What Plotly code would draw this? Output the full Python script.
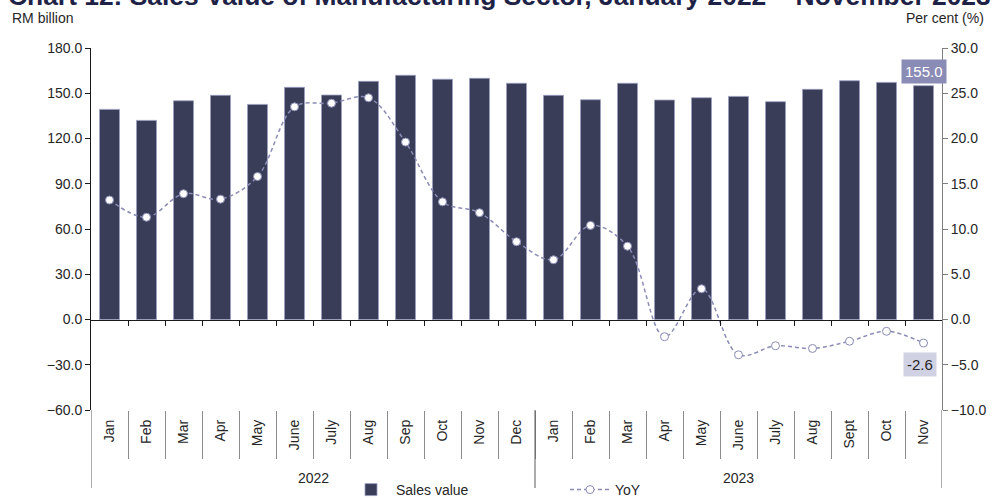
import plotly.graph_objects as go

years = ["2022"] * 12 + ["2023"] * 11
months = ["Jan", "Feb", "Mar", "Apr", "May", "June", "July", "Aug", "Sep", "Oct", "Nov", "Dec",
          "Jan", "Feb", "Mar", "Apr", "May", "June", "July", "Aug", "Sept", "Oct", "Nov"]
sales_value = [139.3, 132.0, 145.0, 148.6, 142.6, 153.9, 148.8, 157.9, 161.9, 159.3, 159.9, 156.6,
               148.6, 145.7, 156.6, 145.5, 147.0, 147.9, 144.4, 152.6, 158.3, 157.2, 155.0]
yoy = [13.2, 11.3, 13.9, 13.3, 15.8, 23.5, 23.9, 24.5, 19.6, 13.0, 11.8, 8.6,
       6.6, 10.4, 8.1, -1.9, 3.4, -3.9, -2.9, -3.2, -2.4, -1.3, -2.6]

FONT = "Arial, Liberation Sans, sans-serif"
TXT = "#262626"
BAR = "#3a3d58"
LAV = "#8a8cb5"

n = len(months)
idx = list(range(n))

W, H = 992, 500
# plot area in window pixels: x 91..942, y 48..410
SX0, SX1, SY0, SY1 = 91, 942, 48, 410
L, R, T, B = SX0, W - SX1, SY0, H - SY1
PW, PH = SX1 - SX0, SY1 - SY0


def py(sy):
    """paper-y of a window y pixel"""
    return (SY1 - sy) / PH


def px(sx):
    """paper-x of a window x pixel"""
    return (sx - SX0) / PW


fig = go.Figure()
fig.add_trace(go.Bar(
    x=idx, y=sales_value, name="Sales value",
    marker=dict(color=BAR, line=dict(color="#9c9ec0", width=0.8)),
    yaxis="y", xaxis="x",
))
fig.add_trace(go.Scatter(
    x=idx, y=yoy, name="YoY", mode="lines+markers",
    line=dict(color=LAV, width=1.5, dash="4px,3px", shape="spline", smoothing=1.0),
    marker=dict(symbol="circle", size=8, color="white", line=dict(color=LAV, width=1)),
    yaxis="y2", xaxis="x",
))
# helper traces to host the zero-line axis and the month separators
fig.add_trace(go.Scatter(x=idx, y=[None] * n, xaxis="x2", yaxis="y",
                         showlegend=False, hoverinfo="skip"))
fig.add_trace(go.Scatter(x=idx, y=[None] * n, xaxis="x3", yaxis="y",
                         showlegend=False, hoverinfo="skip"))

fig.update_layout(
    width=W, height=H,
    margin=dict(l=L, r=R, t=T, b=B, autoexpand=False),
    plot_bgcolor="white", paper_bgcolor="white",
    font=dict(family=FONT, size=14, color=TXT),
    bargap=0.46,
    showlegend=True,
    legend=dict(orientation="h", x=px(346), xanchor="left", y=py(474), yanchor="top",
                font=dict(size=14, color=TXT), entrywidth=164, itemwidth=40,
                bgcolor="rgba(0,0,0,0)"),
    xaxis=dict(
        range=[-0.5, n - 0.5], tickmode="array", tickvals=idx, ticktext=months,
        tickangle=-90, ticks="", ticklabelstandoff=6, showline=False, showgrid=False,
        zeroline=False, automargin=False, tickfont=dict(size=14, color=TXT),
    ),
    xaxis2=dict(
        overlaying="x", anchor="free", position=0.25, side="bottom",
        range=[-0.5, n - 0.5], showline=True, linecolor="#1a1a1a", linewidth=1,
        ticks="outside", ticklen=5, tickcolor="#1a1a1a",
        tickvals=[i + 0.5 for i in range(n - 1)], showticklabels=False, showgrid=False,
        zeroline=False, automargin=False,
    ),
    xaxis3=dict(
        overlaying="x", anchor="y", side="bottom",
        range=[-0.5, n - 0.5], showline=False,
        ticks="outside", ticklen=48, tickcolor="#8c8c8c", tickwidth=1,
        tickvals=[i + 0.5 for i in range(n - 1)], showticklabels=False, showgrid=False,
        zeroline=False, automargin=False,
    ),
    yaxis=dict(
        range=[-60, 180], dtick=30, tick0=0, tickformat=".1f",
        showline=True, linecolor="#1a1a1a", linewidth=1, ticks="outside", ticklen=5,
        tickcolor="#1a1a1a", showgrid=False, zeroline=False, automargin=False,
    ),
    yaxis2=dict(
        overlaying="y", side="right", range=[-10, 30], dtick=5, tick0=0, tickformat=".1f",
        showline=True, linecolor="#808080", linewidth=1, ticks="outside", ticklen=5,
        tickcolor="#808080", showgrid=False, zeroline=False, automargin=False,
    ),
)

# year group labels and dividers
groups = []
for i, yr in enumerate(years):
    if not groups or groups[-1][0] != yr:
        groups.append([yr, i, i])
    else:
        groups[-1][2] = i
edges = set()
for yr, a, b in groups:
    fig.add_annotation(text=yr, xref="x", yref="paper", x=(a + b) / 2, y=py(478),
                       xanchor="center", yanchor="middle", showarrow=False,
                       font=dict(size=14, color=TXT))
    edges.add(a - 0.5)
    edges.add(b + 0.5)
for e in sorted(edges):
    fig.add_shape(type="line", xref="x", yref="paper", x0=e, x1=e, y0=0, y1=py(488),
                  line=dict(color="#5a5a5a", width=1))

# title (clipped at the top, as in the reference)
fig.add_annotation(
    text="<b>Chart 12: Sales Value of Manufacturing Sector, January 2022 – November 2023</b>",
    xref="paper", yref="paper", x=px(499), y=1, xanchor="center", yanchor="bottom", yshift=35,
    showarrow=False, font=dict(size=26.4, color="#1e2246", family=FONT),
)
fig.add_annotation(text="RM billion", xref="paper", yref="paper", x=px(10), y=py(18),
                   xanchor="left", yanchor="middle", showarrow=False,
                   font=dict(size=14, color=TXT))
fig.add_annotation(text="Per cent (%)", xref="paper", yref="paper", x=px(986), y=py(18),
                   xanchor="right", yanchor="middle", showarrow=False,
                   font=dict(size=14, color=TXT))

last = n - 1
fig.add_annotation(text=f"{sales_value[last]:.1f}", xref="x", yref="y", x=last, y=sales_value[last],
                   xanchor="center", yanchor="bottom", yshift=2, showarrow=False,
                   bgcolor=LAV, font=dict(size=15, color="white"), borderpad=3)
fig.add_annotation(text=f"{yoy[last]:.1f}", xref="x", yref="y2", x=last, y=yoy[last],
                   xanchor="center", yanchor="top", yshift=-9, xshift=-4, showarrow=False,
                   bgcolor="#d0d1e2", font=dict(size=15, color=TXT), borderpad=3)

# the page body normally has an 8px margin; remove it so the figure fills the window
fig.write_html("out.html", config={"displayModeBar": False},
               post_script="document.body.style.margin='0';")
